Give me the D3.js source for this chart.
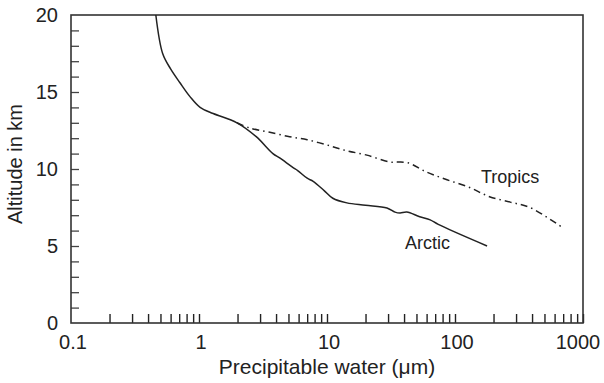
<!DOCTYPE html>
<html>
<head>
<meta charset="utf-8">
<script src="https://cdn.jsdelivr.net/npm/d3@7"></script>
<style>
  body { margin: 0; background: #fff; }
  text { font-family: "Liberation Sans", Arial, sans-serif; fill: #222; }
</style>
</head>
<body>
<div id="chart"></div>
<script>
// precipitable water (um) vs altitude (km)
const arcticWater = [0.46, 0.52, 0.6, 0.71, 0.85, 1.02, 1.29, 1.98, 2.8, 3.78, 4.3, 5.4, 5.9, 7.0, 7.8, 9.5, 11.1, 14.3, 20, 29.4, 34, 37.2, 42, 53, 64, 74, 178];
const arcticAlt   = [20, 17.5, 16.5, 15.6, 14.7, 14.0, 13.6, 13.0, 12.1, 11.0, 10.7, 10.1, 9.9, 9.4, 9.2, 8.6, 8.1, 7.8, 7.65, 7.47, 7.2, 7.14, 7.2, 6.9, 6.7, 6.4, 5.0];

const tropicsWater = [1.98, 2.5, 3.5, 5.1, 7.0, 10, 14, 20.5, 31, 35, 43, 60, 86.6, 130, 186, 270, 385, 692];
const tropicsAlt   = [13.0, 12.66, 12.4, 12.1, 11.9, 11.56, 11.2, 10.9, 10.45, 10.45, 10.4, 9.8, 9.3, 8.8, 8.2, 7.85, 7.5, 6.2];

const xTickLabels = [0.1, 1, 10, 100, 1000];
const yTickLabels = [0, 5, 10, 15, 20];

const width = 604, height = 383;
const margin = { top: 15, right: 21, bottom: 60, left: 71 };

const svg = d3.select('#chart').append('svg')
  .attr('width', width)
  .attr('height', height);

const x = d3.scaleLog().domain([0.1, 1000]).range([margin.left, width - margin.right]);
const y = d3.scaleLinear().domain([0, 20]).range([height - margin.bottom, margin.top]);

// minor ticks 2..9 in each decade plus decade ticks, pointing inward
const xMinor = [];
[0.1, 1, 10, 100].forEach(d => { for (let k = 2; k <= 10; k++) xMinor.push(d * k); });
const yMinor = d3.range(1, 20);

svg.append('g')
  .attr('transform', `translate(0,${y(0)})`)
  .call(d3.axisTop(x).tickValues(xMinor).tickSize(9).tickFormat(''))
  .call(g => g.select('.domain').remove())
  .call(g => g.selectAll('line').attr('stroke', '#222').attr('stroke-width', 1.4));

svg.append('g')
  .attr('transform', `translate(${x(0.1)},0)`)
  .call(d3.axisRight(y).tickValues(yMinor).tickSize(8).tickFormat(''))
  .call(g => g.select('.domain').remove())
  .call(g => g.selectAll('line').attr('stroke', '#444').attr('stroke-width', 1.3));

// tick labels
svg.append('g').selectAll('text')
  .data(xTickLabels)
  .enter().append('text')
  .attr('x', d => x(d) + (d === 1000 ? -5 : 2))
  .attr('y', y(0) + 26)
  .attr('text-anchor', 'middle')
  .style('font-size', '20px')
  .text(d => d);

svg.append('g').selectAll('text')
  .data(yTickLabels)
  .enter().append('text')
  .attr('x', x(0.1) - 13)
  .attr('y', d => y(d) + 7)
  .attr('text-anchor', 'end')
  .style('font-size', '20px')
  .text(d => d);

// frame
svg.append('rect')
  .attr('x', x(0.1))
  .attr('y', y(20))
  .attr('width', x(1000) - x(0.1))
  .attr('height', y(0) - y(20))
  .attr('fill', 'none')
  .attr('stroke', '#333')
  .attr('stroke-width', 1.6);

const line = d3.line()
  .x(d => x(d[0]))
  .y(d => y(d[1]))
  .curve(d3.curveCatmullRom);

svg.append('path')
  .datum(d3.zip(arcticWater, arcticAlt))
  .attr('d', line)
  .attr('fill', 'none')
  .attr('stroke', '#222')
  .attr('stroke-width', 1.5);

svg.append('path')
  .datum(d3.zip(tropicsWater, tropicsAlt))
  .attr('d', line)
  .attr('fill', 'none')
  .attr('stroke', '#222')
  .attr('stroke-width', 1.5)
  .attr('stroke-dasharray', '7,4,1.5,4');

// series labels
svg.append('text')
  .attr('x', 481).attr('y', 183)
  .style('font-size', '18px')
  .text('Tropics');

svg.append('text')
  .attr('x', 405).attr('y', 249)
  .style('font-size', '18px')
  .text('Arctic');

// axis titles
svg.append('text')
  .attr('x', (x(0.1) + x(1000)) / 2)
  .attr('y', 374)
  .attr('text-anchor', 'middle')
  .style('font-size', '21px')
  .text('Precipitable water (μm)');

svg.append('text')
  .attr('transform', `translate(22,${(y(0) + y(20)) / 2 - 5}) rotate(-90)`)
  .attr('text-anchor', 'middle')
  .style('font-size', '20px')
  .text('Altitude in km');
</script>
</body>
</html>
